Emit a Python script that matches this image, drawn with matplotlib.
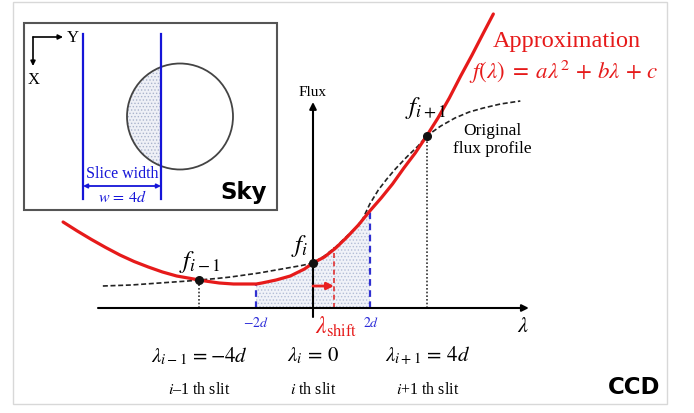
import matplotlib
matplotlib.use('Agg')
import matplotlib.pyplot as plt
from matplotlib.patches import Rectangle, Circle

plt.rcParams['font.family'] = ['Liberation Serif', 'DejaVu Serif']
plt.rcParams['mathtext.fontset'] = 'stix'
plt.rcParams['hatch.linewidth'] = 0.6

# ---- data (lambda in units of d, flux in arbitrary units) ----
approx_lam = [-8.8, -8.3, -7.8, -7.3, -6.8, -6.3, -5.8, -5.3, -4.8, -4.3, -4.0, -3.8, -3.3, -2.8,
              -2.3, -2.0, -1.8, -1.3, -0.8, -0.3, 0.0, 0.4, 0.8, 1.2, 1.6, 2.0, 2.4, 2.8, 3.2,
              3.6, 4.0, 4.4, 4.8, 5.2, 5.6, 6.0, 6.35]
approx_flux = [8.6, 7.7, 6.85, 6.05, 5.3, 4.65, 4.1, 3.6, 3.2, 2.95, 2.8, 2.7, 2.5, 2.4,
               2.4, 2.4, 2.5, 2.8, 3.2, 3.9, 4.5, 5.1, 6.0, 7.1, 8.3, 9.7, 11.0, 12.4, 14.0,
               15.5, 17.2, 19.0, 21.0, 23.2, 25.3, 27.5, 29.4]

orig_lam = [-7.4, -6.4, -5.4, -4.4, -4.0, -3.4, -2.9, -2.4, -1.9, -1.4, -0.9, -0.4, 0.0,
            0.4, 0.8, 1.2, 1.5, 1.75, 2.0, 2.3, 2.6, 2.9, 3.3, 3.7, 4.0, 4.5, 5.0, 5.5,
            6.0, 6.6, 7.3]
orig_flux = [2.2, 2.3, 2.5, 2.7, 2.8, 2.95, 3.1, 3.3, 3.5, 3.75, 4.0, 4.25, 4.5,
             5.2, 6.1, 7.2, 8.0, 8.9, 10.4, 11.8, 12.9, 13.9, 15.1, 16.2, 17.2, 18.2, 19.0, 19.6,
             20.0, 20.4, 20.7]

# slit sample points f_{i-1}, f_i, f_{i+1}
slit_lam = [-4.0, 0.0, 4.0]
slit_flux = [2.8, 4.5, 17.2]

# integration window -2d .. 2d
win_lo, win_hi = -2.0, 2.0

lam_shift = 0.74
shift_top = 6.1

fig = plt.figure(figsize=(6.94, 4.14), dpi=100)

# main diagram axes (pixel mapping: x = 313 + 28.4*lam, y = 309 - 10*flux)
ax = fig.add_axes([0, 0, 1, 1])
ax.set_xlim(-313 / 28.4, (694 - 313) / 28.4)
ax.set_ylim((309 - 414) / 10, 30.9)
ax.axis('off')

# shaded window under the approximation
shade = [(l, f) for l, f in zip(approx_lam, approx_flux) if win_lo <= l <= win_hi]
ax.fill_between([s[0] for s in shade], 0, [s[1] for s in shade], facecolor='#f0f2f8',
                edgecolor='#b3bdd6', hatch='.....', linewidth=0, zorder=1)

# dotted verticals at f_{i-1}, f_{i+1}
for k in (0, 2):
    ax.plot([slit_lam[k], slit_lam[k]], [0, slit_flux[k]], color='#333333',
            lw=1.2, ls=(0, (1, 1.2)), zorder=2)

# blue dashed window limits
ax.plot([win_lo] * 2, [0, shade[0][1]], color='#3030d0', lw=1.6, ls=(0, (3, 2)), zorder=2)
ax.plot([win_hi] * 2, [0, shade[-1][1]], color='#3030d0', lw=1.6, ls=(0, (3, 2)), zorder=2)

# red dashed shift line
ax.plot([lam_shift, lam_shift], [0, shift_top], color='#e03030', lw=1.2, ls=(0, (3, 2)), zorder=2)

# axes arrows
ax.annotate('', xy=(7.6, 0), xytext=(-7.57, 0),
            arrowprops=dict(arrowstyle='-|>', lw=1.5, color='black', mutation_scale=10, shrinkA=0, shrinkB=0))
ax.annotate('', xy=(0, 20.6), xytext=(0, -0.9),
            arrowprops=dict(arrowstyle='-|>', lw=1.5, color='black', mutation_scale=10, shrinkA=0, shrinkB=0))

# shift arrow
ax.annotate('', xy=(lam_shift, 2.2), xytext=(0, 2.2),
            arrowprops=dict(arrowstyle='-|>', lw=2, color='#e82020', mutation_scale=10, shrinkA=0, shrinkB=0),
            zorder=4)

# curves
ax.plot(orig_lam, orig_flux, color='#222222', lw=1.2, ls=(0, (3, 1.6)), zorder=3)
ax.plot(approx_lam, approx_flux, color='#e61a1a', lw=2.3, solid_capstyle='round',
        solid_joinstyle='round', zorder=4)
ax.plot(slit_lam, slit_flux, 'o', color='#111111', ms=5.5, zorder=5)

# ---- overlay in pixel coordinates for sky panel and text ----
ov = fig.add_axes([0, 0, 1, 1])
ov.set_xlim(0, 694)
ov.set_ylim(414, 0)
ov.axis('off')
ov.patch.set_alpha(0)

ov.add_patch(Rectangle((13, 3), 654, 402, fill=False, edgecolor='#d8d8d8', lw=1))

# sky panel
ov.add_patch(Rectangle((24, 24), 253, 187, facecolor='white', edgecolor='#555555', lw=1.5))
clip = Rectangle((100, 50), 61, 140, transform=ov.transData)
half = Circle((180, 117.5), 53, facecolor='#eef0f6', edgecolor='#aab4cc', hatch='.....', lw=0)
ov.add_patch(half)
half.set_clip_path(clip)
ov.add_patch(Circle((180, 117.5), 53, fill=False, edgecolor='#444444', lw=1.3))
ov.plot([83, 83], [35, 200], color='#1515d8', lw=1.6)
ov.plot([161, 161], [35, 200], color='#1515d8', lw=1.6)
ov.annotate('', xy=(63, 38), xytext=(33, 38),
            arrowprops=dict(arrowstyle='-|>', lw=1.2, color='black', mutation_scale=7, shrinkA=0, shrinkB=0))
ov.annotate('', xy=(33, 67), xytext=(33, 38),
            arrowprops=dict(arrowstyle='-|>', lw=1.2, color='black', mutation_scale=7, shrinkA=0, shrinkB=0))
ov.text(73, 38, 'Y', fontsize=12, ha='center', va='center')
ov.text(34, 80, 'X', fontsize=12, ha='center', va='center')
ov.annotate('', xy=(83, 187), xytext=(161, 187),
            arrowprops=dict(arrowstyle='<|-|>', lw=1.3, color='#1515d8', mutation_scale=6, shrinkA=0, shrinkB=0))
ov.text(122, 174, 'Slice width', fontsize=11.5, color='#1515d8', ha='center', va='center')
ov.text(122, 198, r'$w\,=\,4d$', fontsize=11.5, color='#1515d8', ha='center', va='center')
ov.text(244, 193, 'Sky', fontsize=16.5, fontweight='bold', family='DejaVu Sans', ha='center', va='center')

# labels
ov.text(567, 42, 'Approximation', fontsize=17.5, color='#e61a1a', ha='center', va='center')
ov.text(564, 72, r'$f(\lambda)\;=\;a\lambda^2\,+\,b\lambda\,+\,c$', fontsize=16.5, color='#e61a1a',
        ha='center', va='center')
ov.text(492, 140, 'Original\nflux profile', fontsize=12.5, ha='center', va='center', linespacing=1.2)
ov.text(313, 92, 'Flux', fontsize=11, ha='center', va='center')
ov.text(200, 262, r'$f_{i-1}$', fontsize=18, ha='center', va='center')
ov.text(300, 246, r'$f_i$', fontsize=18, ha='center', va='center')
ov.text(426, 108, r'$f_{i+1}$', fontsize=18, ha='center', va='center')
ov.text(523, 328, r'$\lambda$', fontsize=16, ha='center', va='center')
ov.text(256, 323, r'$-2d$', fontsize=10, color='#2a2ad8', ha='center', va='center')
ov.text(371, 323, r'$2d$', fontsize=10, color='#2a2ad8', ha='center', va='center')
ov.text(336, 327, r'$\lambda_{\mathrm{shift}}$', fontsize=17, color='#e61a1a', ha='center', va='center')

for xc, lab, slit in [(199, r'$\lambda_{i-1}\,=-4d$', r'$i$–1 th slit'),
                      (313, r'$\lambda_i\,=\,0$', r'$i$ th slit'),
                      (428, r'$\lambda_{i+1}\,=\,4d$', r'$i$+1 th slit')]:
    ov.text(xc, 356, lab, fontsize=15, ha='center', va='center')
    ov.text(xc, 390, slit, fontsize=11.5, ha='center', va='center')

ov.text(634, 388, 'CCD', fontsize=16.5, fontweight='bold', family='DejaVu Sans', ha='center', va='center')

fig.savefig('out.png', dpi=100)
